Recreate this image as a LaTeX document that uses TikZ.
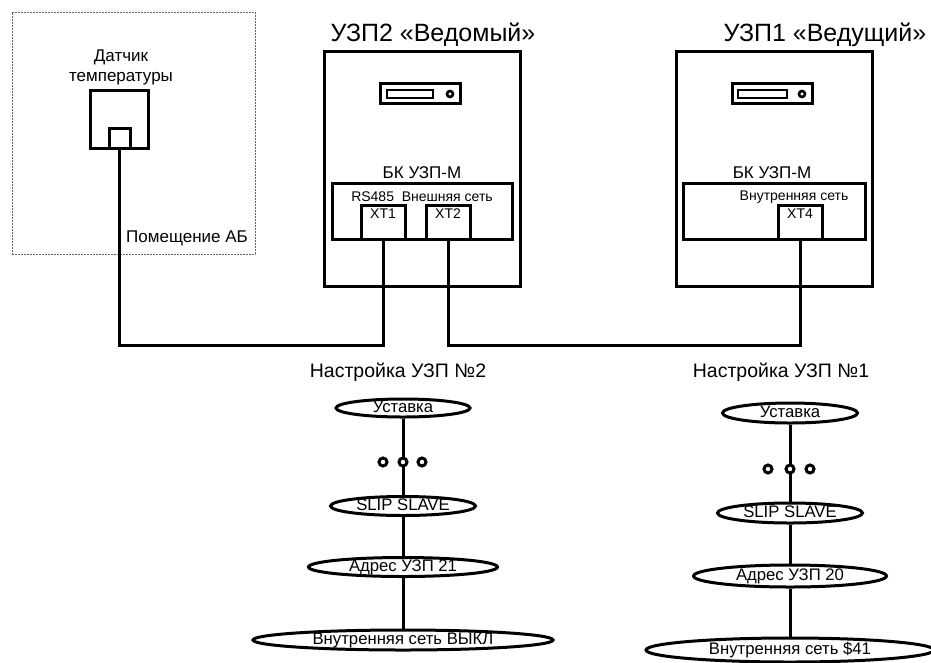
\documentclass[tikz,border=0pt]{standalone}
\usepackage{fontspec}
\setmainfont{Liberation Sans}
\usetikzlibrary{shapes.geometric}
\tikzset{
	box/.style={draw, line width=3pt, inner sep=0pt},
	param/.style={draw, ellipse, line width=3pt, inner sep=0pt, text height=9pt, text depth=0pt, font=\fontsize{16.7}{20}\selectfont},
	wire/.style={line width=3pt},
	knob/.style={draw, circle, fill=white, line width=3pt, minimum size=8pt, inner sep=0pt},
	txt/.style={font=\fontsize{17}{20}\selectfont, align=center},
	small/.style={font=\fontsize{14}{16}\selectfont},
	head/.style={font=\fontsize{19.5}{23}\selectfont},
	title/.style={font=\fontsize{25}{29}\selectfont},
}
\begin{document}
\begin{tikzpicture}[x=1pt,y=-1pt]
			%%Location
			\useasboundingbox (0,0) rectangle (931,662);
			
			%%Room
			\node[draw, gray!80!black, line width=1pt, dash pattern=on 2pt off 1pt, minimum width=243, minimum height=242] (room) at (133.5,133) {};
			\node[txt] (senslbl) at (121,67) {Датчик\\температуры};
			\node[box, minimum width=58, minimum height=58] (sens) at (119,119) {};
			\node[box, minimum width=21, minimum height=20] (tin) at (119.5,138) {};
			\node[txt] (roomlbl) at (187,238) {Помещение АБ};
			
			%%Slave
			\node[title] (t2) at (433,35) {УЗП2 «Ведомый»};
			\node[box, minimum width=196, minimum height=235] (u2) at (422,168.5) {};
			\node[box, minimum width=80, minimum height=20] (disp2) at (420,93) {};
			\node[box, line width=2.6pt, minimum width=46, minimum height=8] (slot2) at (410,94) {};
			\node[knob, line width=2.6pt, minimum size=6pt] (led2) at (450,94) {};
			\node[txt] (bk2) at (422,173) {БК УЗП-М};
			\node[box, minimum width=180, minimum height=56] (p2) at (422,211) {};
			\node[small] (net2) at (422,197) {RS485\ \ Внешняя сеть};
			\node[box, minimum width=44, minimum height=34] (xt1) at (383,222) {};
			\node[small] at (383,214) {XT1};
			\node[box, minimum width=44, minimum height=34] (xt2) at (448,222) {};
			\node[small] at (448,214) {XT2};
			
			%%Master
			\node[title] (t1) at (825,35) {УЗП1 «Ведущий»};
			\node[box, minimum width=196, minimum height=235] (u1) at (774,168.5) {};
			\node[box, minimum width=80, minimum height=20] (disp1) at (772,93) {};
			\node[box, line width=2.6pt, minimum width=49, minimum height=8] (slot1) at (762.5,94) {};
			\node[knob, line width=2.6pt, minimum size=6pt] (led1) at (802,94) {};
			\node[txt] (bk1) at (772,173) {БК УЗП-М};
			\node[box, minimum width=182, minimum height=56] (p1) at (774,211) {};
			\node[small] (net1) at (794,197) {Внутренняя сеть};
			\node[box, minimum width=44, minimum height=34] (xt4) at (800,222) {};
			\node[small] at (800,214) {XT4};
			
			%%Wires
			\coordinate (jl) at (383,345);
			\coordinate (jr) at (448,345);
			\draw[wire] (tin.south) |- (jl) -- (xt1.south);
			\draw[wire] (xt2.south) -- (jr) -| (xt4.south);
			
			%%Settings 2
			\node[head] (h2) at (398,372) {Настройка УЗП №2};
			\node[param, minimum width=134, minimum height=18] (s2a) at (403,408) {Уставка};
			\node[param, minimum width=145, minimum height=19] (s2b) at (403,506) {SLIP SLAVE};
			\node[param, minimum width=189, minimum height=19] (s2c) at (403,567) {Адрес УЗП 21};
			\node[param, minimum width=300, minimum height=20] (s2d) at (403,640) {Внутренняя сеть ВЫКЛ};
			\draw[wire] (s2a) -- (s2b) -- (s2c) -- (s2d);
			\node[knob] (d2a) at (383,462) {};
			\node[knob] (d2b) at (403,462) {};
			\node[knob] (d2c) at (422,462) {};
			
			%%Settings 1
			\node[head] (h1) at (781,372) {Настройка УЗП №1};
			\node[param, minimum width=135, minimum height=20] (s1a) at (790,413) {Уставка};
			\node[param, minimum width=145, minimum height=20] (s1b) at (790,513) {SLIP SLAVE};
			\node[param, minimum width=193, minimum height=22] (s1c) at (790,576) {Адрес УЗП 20};
			\node[param, minimum width=288, minimum height=24] (s1d) at (790,650) {Внутренняя сеть \$41};
			\draw[wire] (s1a) -- (s1b) -- (s1c) -- (s1d);
			\node[knob] (d1a) at (768,469) {};
			\node[knob] (d1b) at (790,469) {};
			\node[knob] (d1c) at (810,469) {};
			
\end{tikzpicture}
\end{document}
